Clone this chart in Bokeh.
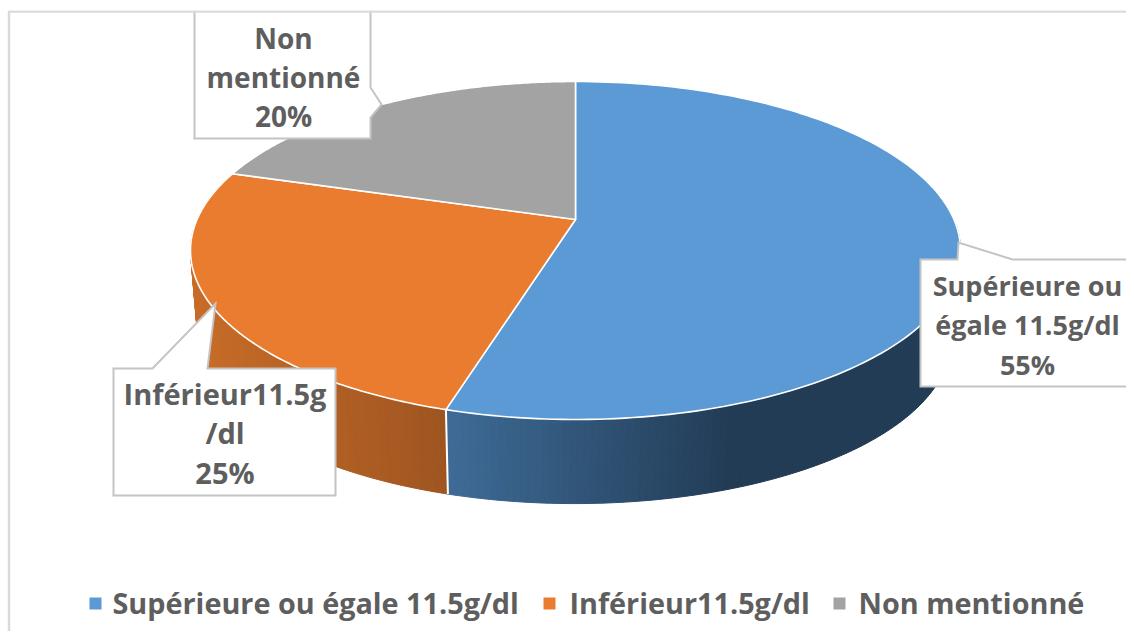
import numpy as np
from bokeh.embed import file_html
from bokeh.models import Range1d
from bokeh.plotting import figure
from bokeh.resources import INLINE
from bokeh.core.properties import value

# ---- data ----
categories = ["Supérieure ou égale 11.5g/dl", "Inférieur11.5g/dl", "Non mentionné"]
shares = [55, 25, 20]
callout_lines = [["Supérieure ou", "égale 11.5g/dl", "55%"],
                 ["Inférieur11.5g", "/dl", "25%"],
                 ["Non", "mentionné", "20%"]]

# ---- style / layout ----
top_colors = ["#5B9AD5", "#EA7C2F", "#A3A3A3"]
wall_grad = [((62, 107, 150), (34, 60, 86), 446, 730),
             ((200, 108, 40), (158, 85, 32), 192, 446)]
TEXT = "#5E5E5E"
BOX = "#C4C4C4"
FONT = value("Open Sans")
CX, CY, RX, RY = 575.0, 250.0, 385.0, 169.0   # top ellipse (page pixels)
AX, AY = 575.0, 219.0                          # apex seen in perspective
LCX, LCY, SX, SY = 574.0, 340.0, 0.977, 0.965  # lower rim of the wall


def rim(theta_deg):
    t = np.radians(theta_deg)
    s = np.sin(t)
    phi = t - np.radians(9.7) * s * np.sqrt(np.abs(s))   # perspective skew of the angles
    return CX + RX * np.sin(phi), CY - RY * np.cos(phi)


def lower(x, y):
    return LCX + (x - CX) * SX, LCY + (y - CY) * SY


def mix(a, b, t):
    t = min(max(t, 0.0), 1.0)
    return "#%02x%02x%02x" % tuple(int(round(a[i] + (b[i] - a[i]) * t)) for i in range(3))


p = figure(width=1126, height=631, x_range=Range1d(0, 1126), y_range=Range1d(631, 0),
           toolbar_location=None, output_backend="svg", min_border=0,
           x_axis_type="linear", y_axis_type="linear")
p.axis.visible = False
p.grid.visible = False
p.outline_line_color = None
p.background_fill_color = "white"
p.border_fill_color = "white"

edges = np.cumsum([0] + shares) / sum(shares) * 360.0

# side walls, drawn as thin strips so that they shade across the slice
for i in range(2):
    c0, c1, x0, x1 = wall_grad[i]
    start, stop = max(edges[i], 90.0), min(edges[i + 1], 285.0)
    ticks = np.arange(start, stop + 1.0, 1.0)
    ticks[-1] = stop
    for a, b in zip(ticks[:-1], ticks[1:]):
        xa, ya = rim(a)
        xb, yb = rim(b)
        la, lb = lower(xa, ya), lower(xb, yb)
        col = mix(c0, c1, ((xa + xb) / 2 - x0) / (x1 - x0))
        p.patch([xa, xb, lb[0], la[0]], [ya, yb, lb[1], la[1]],
                fill_color=col, line_color=col, line_width=1)

# separator on the wall between the two slices
sx, sy = rim(edges[1])
lx, ly = lower(sx, sy)
p.line([sx, lx], [sy, ly], line_color="white", line_width=2)

# top faces
for i, col in enumerate(top_colors):
    th = np.linspace(edges[i], edges[i + 1], 160)
    xs, ys = rim(th)
    p.patch(np.r_[AX, xs], np.r_[AY, ys], fill_color=col, line_color="white",
            line_width=1.6, line_join="round")

# callouts
boxes = [
    ([920, 957, 958, 1012, 1140, 1140, 920], [259, 259, 242, 259, 259, 386, 386]),
    ([113, 152, 215, 207, 335, 335, 113], [368, 368, 303, 368, 368, 495, 495]),
    ([194, 370, 370, 381, 370, 370, 194], [5, 5, 87, 104, 117, 138, 138]),
]
for bx, by in boxes:
    p.patch(bx, by, fill_color="white", line_color=BOX, line_width=2, line_join="miter")

# chart frame
p.line([8.5, 8.5, 1134], [640, 11, 11], line_color="#DADADA", line_width=2.5)
p.rect([600], [5], width=1200, height=10, fill_color="white", line_color=None)

line_xy = [(1027, [285, 324, 364], "27px"), (224.5, [393, 432, 472], "29px"),
           (283, [37, 76, 115], "28px")]
for lines, (tx, tys, fs) in zip(callout_lines, line_xy):
    p.text([tx] * 3, tys, text=lines, text_font=FONT, text_font_style="bold",
           text_font_size=fs, text_color=TEXT, text_align="center",
           text_baseline="middle")

# legend
leg_mark = [95, 549, 839]
leg_text = [112, 569, 858]
p.rect(leg_mark, [603] * 3, width=12, height=12, fill_color=top_colors, line_color=None)
p.text(leg_text, [602] * 3, text=categories, text_font=FONT, text_font_style="bold",
       text_font_size="28.8px", text_color=TEXT, text_align="left", text_baseline="middle")

open("out.html", "w").write(file_html(p, INLINE))
